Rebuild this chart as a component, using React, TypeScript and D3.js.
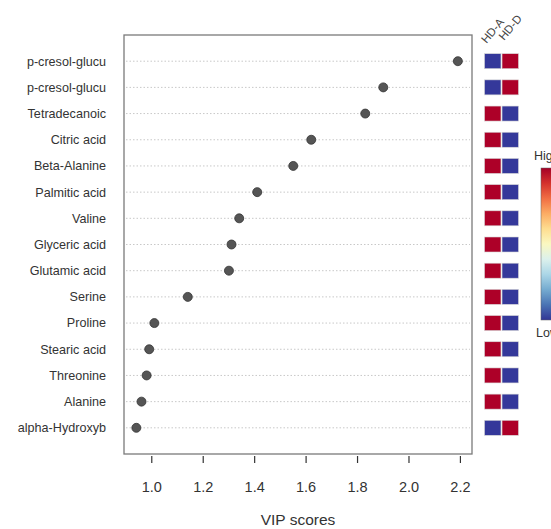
import React, { useEffect, useRef } from 'react';
import * as d3 from 'd3';

const features = [
  'p-cresol-glucu', 'p-cresol-glucu', 'Tetradecanoic', 'Citric acid', 'Beta-Alanine',
  'Palmitic acid', 'Valine', 'Glyceric acid', 'Glutamic acid', 'Serine',
  'Proline', 'Stearic acid', 'Threonine', 'Alanine', 'alpha-Hydroxyb',
];
const vipScores = [2.19, 1.90, 1.83, 1.62, 1.55, 1.41, 1.34, 1.31, 1.30, 1.14, 1.01, 0.99, 0.98, 0.96, 0.94];
const groups = ['HD-A', 'HD-D'];
// relative level per group: 1 = high, 0 = low
const levelHDA = [0, 0, 1, 1, 1, 1, 1, 1, 1, 1, 1, 1, 1, 1, 0];
const levelHDD = [1, 1, 0, 0, 0, 0, 0, 0, 0, 0, 0, 0, 0, 0, 1];
const xTicks = [1.0, 1.2, 1.4, 1.6, 1.8, 2.0, 2.2];

const App = () => {
  const svgRef = useRef<SVGSVGElement>(null);

  useEffect(() => {
    const svg = d3.select(svgRef.current);
    svg.selectAll('*').remove();

    const font = 'Liberation Sans, Arial, sans-serif';
    const plot = { left: 124, right: 472, top: 35, bottom: 454 };

    const x = d3.scaleLinear().domain([0.892, 2.245]).range([plot.left, plot.right]);
    const y = d3
      .scalePoint<number>()
      .domain(d3.range(features.length))
      .range([plot.top, plot.bottom])
      .padding(1);

    // grid lines
    svg
      .append('g')
      .selectAll('line')
      .data(features)
      .join('line')
      .attr('x1', plot.left + 2)
      .attr('x2', plot.right - 2)
      .attr('y1', (d, i) => y(i)!)
      .attr('y2', (d, i) => y(i)!)
      .attr('stroke', '#c8c8c8')
      .attr('stroke-width', 1)
      .attr('stroke-dasharray', '1.5,2');

    // frame
    svg
      .append('rect')
      .attr('x', plot.left)
      .attr('y', plot.top)
      .attr('width', plot.right - plot.left)
      .attr('height', plot.bottom - plot.top)
      .attr('fill', 'none')
      .attr('stroke', '#7a7a7a')
      .attr('stroke-width', 1.3);

    // row labels
    svg
      .append('g')
      .selectAll('text')
      .data(features)
      .join('text')
      .attr('x', 106)
      .attr('y', (d, i) => y(i)!)
      .attr('dy', '0.35em')
      .attr('text-anchor', 'end')
      .attr('font-family', font)
      .attr('font-size', 12.6)
      .attr('fill', '#333')
      .text((d) => d);

    // points
    svg
      .append('g')
      .selectAll('circle')
      .data(vipScores)
      .join('circle')
      .attr('cx', (d) => x(d))
      .attr('cy', (d, i) => y(i)!)
      .attr('r', 4.5)
      .attr('fill', '#555')
      .attr('stroke', '#333')
      .attr('stroke-width', 0.8);

    // x axis
    const axis = svg.append('g');
    axis
      .selectAll('line')
      .data(xTicks)
      .join('line')
      .attr('x1', (d) => x(d))
      .attr('x2', (d) => x(d))
      .attr('y1', 456)
      .attr('y2', 463)
      .attr('stroke', '#333')
      .attr('stroke-width', 1.2);
    axis
      .selectAll('text')
      .data(xTicks)
      .join('text')
      .attr('x', (d) => x(d))
      .attr('y', 491.5)
      .attr('text-anchor', 'middle')
      .attr('font-family', font)
      .attr('font-size', 14.5)
      .attr('fill', '#333')
      .text((d) => d3.format('.1f')(d));

    svg
      .append('text')
      .attr('x', (plot.left + plot.right) / 2)
      .attr('y', 525)
      .attr('text-anchor', 'middle')
      .attr('font-family', font)
      .attr('font-size', 15.5)
      .attr('fill', '#333')
      .text('VIP scores');

    // heat cells
    const color = (v: number) => (v > 0.5 ? '#ad0028' : '#34389a');
    const colX = d3.scaleBand().domain(groups).range([484.5, 518.5]).paddingInner(0.06);
    const levels = [levelHDA, levelHDD];
    groups.forEach((g, gi) => {
      svg
        .append('g')
        .selectAll('rect')
        .data(levels[gi])
        .join('rect')
        .attr('x', colX(g)!)
        .attr('y', (d, i) => y(i)! - 7.5)
        .attr('width', colX.bandwidth())
        .attr('height', 15)
        .attr('fill', (d) => color(d))
        .attr('stroke', '#d8d8d8')
        .attr('stroke-width', 0.6);
      svg
        .append('text')
        .attr('transform', `translate(${colX(g)! + 2},${44 - gi * 3}) rotate(-50)`)
        .attr('font-family', font)
        .attr('font-size', 11.5)
        .attr('fill', '#444')
        .text(g);
    });

    // color legend
    const defs = svg.append('defs');
    const grad = defs
      .append('linearGradient')
      .attr('id', 'legendGrad')
      .attr('x1', 0)
      .attr('y1', 0)
      .attr('x2', 0)
      .attr('y2', 1);
    d3.range(0, 1.001, 0.1).forEach((t) => {
      grad
        .append('stop')
        .attr('offset', t)
        .attr('stop-color', d3.interpolateRdYlBu(t));
    });
    svg
      .append('rect')
      .attr('x', 541)
      .attr('y', 168)
      .attr('width', 16)
      .attr('height', 152)
      .attr('fill', 'url(#legendGrad)')
      .attr('stroke', '#666')
      .attr('stroke-width', 0.5);
    svg
      .append('text')
      .attr('x', 534)
      .attr('y', 156)
      .attr('dy', '0.35em')
      .attr('font-family', font)
      .attr('font-size', 12.5)
      .attr('fill', '#333')
      .text('High');
    svg
      .append('text')
      .attr('x', 536)
      .attr('y', 333)
      .attr('dy', '0.35em')
      .attr('font-family', font)
      .attr('font-size', 12.5)
      .attr('fill', '#333')
      .text('Low');
  }, []);

  return (
    <svg
      ref={svgRef}
      width={551}
      height={529}
      style={{ position: 'absolute', left: 0, top: 0, background: '#fff' }}
    />
  );
};

export default App;
